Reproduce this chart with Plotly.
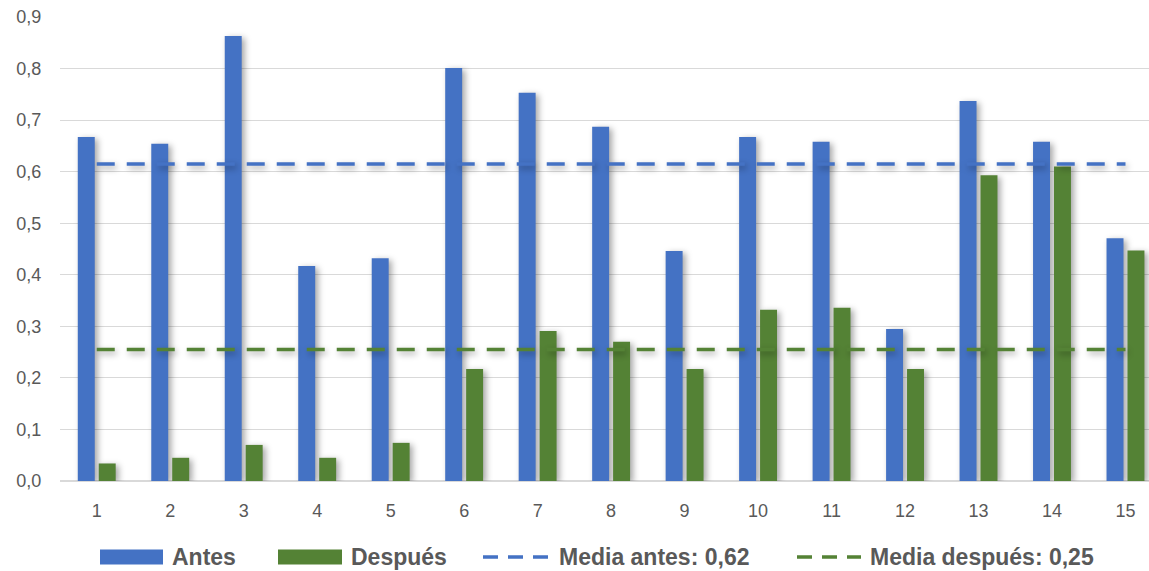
import plotly.graph_objects as go

categories = [str(i) for i in range(1, 16)]
antes = [0.667, 0.654, 0.863, 0.417, 0.432, 0.801, 0.753, 0.687, 0.446, 0.667, 0.658, 0.295, 0.737, 0.658, 0.471]
despues = [0.034, 0.045, 0.070, 0.045, 0.074, 0.217, 0.291, 0.270, 0.217, 0.332, 0.336, 0.217, 0.593, 0.610, 0.447]
media_antes = 0.615
media_despues = 0.255
y_ticks = [0.0, 0.1, 0.2, 0.3, 0.4, 0.5, 0.6, 0.7, 0.8, 0.9]
y_tick_labels = ["0,0", "0,1", "0,2", "0,3", "0,4", "0,5", "0,6", "0,7", "0,8", "0,9"]
legend_names = ["Antes", "Después", "Media antes: 0,62", "Media después: 0,25"]

BLUE = "#4472C4"
GREEN = "#548235"
TEXT = "#595959"
FONT = "Liberation Sans"

W, H = 1149, 571
ML, MR, MT, MB = 60, 0, 17, 90
PW, PH = W - ML - MR, H - MT - MB


def px_x(px):
    return (px - ML) / PW


def px_y(py):
    return (H - MB - py) / PH


fig = go.Figure()
fig.add_trace(go.Bar(x=categories, y=antes, name=legend_names[0], marker=dict(color=BLUE, line=dict(width=0))))
fig.add_trace(go.Bar(x=categories, y=despues, name=legend_names[1], marker=dict(color=GREEN, line=dict(width=0))))
fig.add_trace(go.Scatter(x=[categories[0], categories[-1]], y=[media_antes, media_antes], mode="lines",
                         name=legend_names[2], line=dict(color=BLUE, width=3.5, dash="18px,12px")))
fig.add_trace(go.Scatter(x=[categories[0], categories[-1]], y=[media_despues, media_despues], mode="lines",
                         name=legend_names[3], line=dict(color=GREEN, width=3.5, dash="18px,12px")))

# custom legend (layout only)
legend_items = [
    ("bar", BLUE, 100, 163, 170),
    ("bar", GREEN, 278, 342, 349),
    ("line", BLUE, 483, 552, 557),
    ("line", GREEN, 797, 861, 868),
]
ly = 557
shapes = []
annotations = []
for (kind, color, x0, x1, tx), name in zip(legend_items, legend_names):
    if kind == "bar":
        shapes.append(dict(type="rect", xref="paper", yref="paper", x0=px_x(x0), x1=px_x(x1),
                           y0=px_y(ly - 7.5), y1=px_y(ly + 7.5), fillcolor=color, line=dict(width=0)))
    else:
        shapes.append(dict(type="line", xref="paper", yref="paper", x0=px_x(x0), x1=px_x(x1),
                           y0=px_y(ly), y1=px_y(ly), line=dict(color=color, width=3.5, dash="15px,10px")))
    annotations.append(dict(text="<b>" + name + "</b>", xref="paper", yref="paper", x=px_x(tx), y=px_y(ly),
                            xanchor="left", yanchor="middle", showarrow=False,
                            font=dict(family=FONT, size=23, color=TEXT)))

fig.update_layout(
    width=W, height=H,
    margin=dict(l=ML, r=MR, t=MT, b=MB),
    paper_bgcolor="white", plot_bgcolor="white",
    barmode="group", bargap=0.43, bargroupgap=0.19,
    font=dict(family=FONT, color=TEXT, size=18),
    showlegend=False,
    shapes=shapes, annotations=annotations,
)
fig.update_xaxes(type="category", range=[-0.5, 14.32], showgrid=False, showline=False,
                 ticks="outside", ticklen=13, tickcolor="rgba(0,0,0,0)",
                 tickfont=dict(size=18, color=TEXT), fixedrange=True, automargin=False)
fig.update_yaxes(range=[0, 0.9], tickvals=y_ticks, ticktext=y_tick_labels, showgrid=True,
                 gridcolor="#d9d9d9", gridwidth=1, zeroline=True, zerolinecolor="#d9d9d9",
                 showline=False, ticks="outside", ticklen=14, tickcolor="rgba(0,0,0,0)",
                 tickfont=dict(size=18, color=TEXT), fixedrange=True, automargin=False)

post = """
document.body.style.margin = '0';
document.body.style.overflow = 'hidden';
var s = document.createElement('style');
s.innerHTML = 'body { margin: 0; } ' +
              '.barlayer .point path { filter: drop-shadow(3px 2px 3px rgba(0,0,0,0.35)); } ' +
              '.scatterlayer .js-line { filter: drop-shadow(2px 3px 3px rgba(0,0,0,0.35)); }';
document.head.appendChild(s);
"""
fig.write_html("out.html", post_script=post, config={"displayModeBar": False})
